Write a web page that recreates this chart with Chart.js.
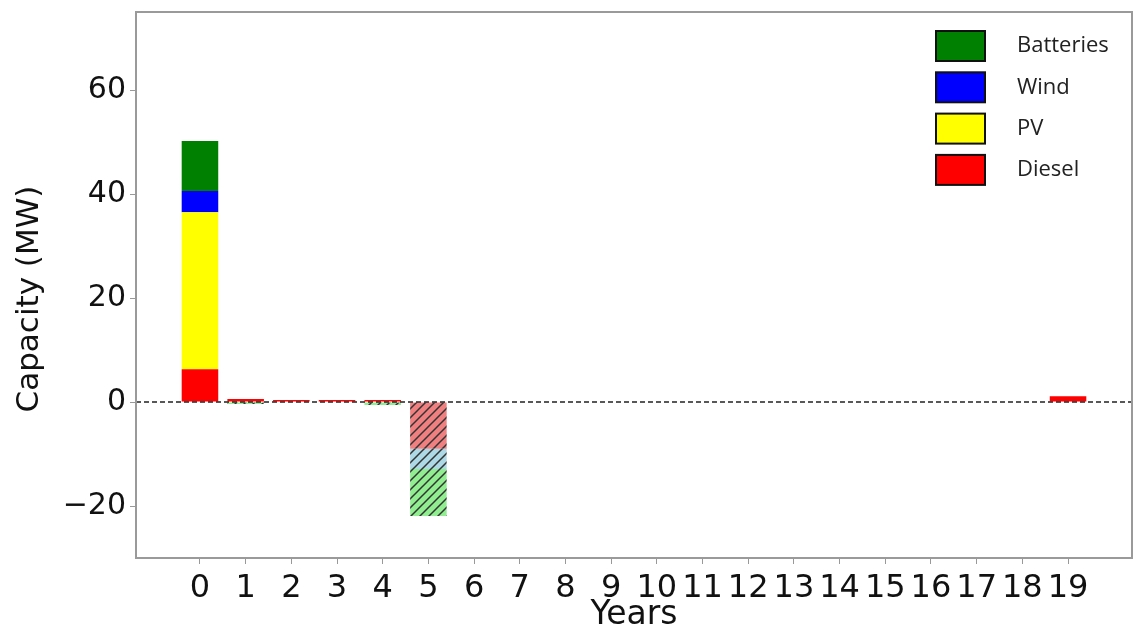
<!DOCTYPE html>
<html>
<head>
<meta charset="utf-8">
<script src="https://cdn.jsdelivr.net/npm/chart.js@4.4.0/dist/chart.umd.min.js"></script>
<style>
  html, body { margin: 0; padding: 0; background: #fff; }
</style>
</head>
<body>
<canvas id="capChart" width="1133" height="635"></canvas>
<script>
// years of the planning horizon
const years = [0, 1, 2, 3, 4, 5, 6, 7, 8, 9, 10, 11, 12, 13, 14, 15, 16, 17, 18, 19];
const yTicks = [-20, 0, 20, 40, 60];

// installed capacity per year (MW)
const diesel    = [6.3, 0.6, 0.4, 0.4, 0.4, 0, 0, 0, 0, 0, 0, 0, 0, 0, 0, 0, 0, 0, 0, 1.1];
const pv        = [30.2, 0, 0, 0, 0, 0, 0, 0, 0, 0, 0, 0, 0, 0, 0, 0, 0, 0, 0, 0];
const wind      = [4.1, 0, 0, 0, 0, 0, 0, 0, 0, 0, 0, 0, 0, 0, 0, 0, 0, 0, 0, 0];
const batteries = [9.6, 0, 0, 0, 0, 0, 0, 0, 0, 0, 0, 0, 0, 0, 0, 0, 0, 0, 0, 0];

// retired capacity per year (MW)
const dieselRetired    = [0, 0, 0, 0, 0, -9.0, 0, 0, 0, 0, 0, 0, 0, 0, 0, 0, 0, 0, 0, 0];
const windRetired      = [0, 0, 0, 0, 0, -3.9, 0, 0, 0, 0, 0, 0, 0, 0, 0, 0, 0, 0, 0, 0];
const batteriesRetired = [0, -0.4, 0, 0, -0.6, -9.0, 0, 0, 0, 0, 0, 0, 0, 0, 0, 0, 0, 0, 0, 0];

const toPoints = arr => years.map((x, i) => ({ x: x, y: arr[i] }));

// diagonal "///" fill for retired capacity
function hatch(bg) {
  const s = 9;
  const c = document.createElement('canvas');
  c.width = s; c.height = s;
  const g = c.getContext('2d');
  g.fillStyle = bg;
  g.fillRect(0, 0, s, s);
  g.strokeStyle = '#333';
  g.lineWidth = 1.5;
  g.beginPath();
  g.moveTo(0, s); g.lineTo(s, 0);
  g.moveTo(-s / 2, s / 2); g.lineTo(s / 2, -s / 2);
  g.moveTo(s / 2, s * 1.5); g.lineTo(s * 1.5, s / 2);
  g.stroke();
  return g.createPattern(c, 'repeat');
}

const noPad = s => { s.paddingTop = 0; s.paddingBottom = 0; s.paddingLeft = 0; s.paddingRight = 0; };

// frame round the plot + dashed zero line
const frame = {
  id: 'frame',
  afterDatasetsDraw(chart) {
    const { ctx, chartArea: a, scales: { y } } = chart;
    const y0 = y.getPixelForValue(0);
    ctx.save();
    ctx.strokeStyle = '#222';
    ctx.lineWidth = 1.5;
    ctx.setLineDash([5, 3]);
    ctx.beginPath();
    ctx.moveTo(a.left, y0);
    ctx.lineTo(a.right, y0);
    ctx.stroke();
    ctx.setLineDash([]);
    ctx.strokeStyle = '#9a9a9a';
    ctx.lineWidth = 2;
    ctx.strokeRect(a.left, a.top, a.right - a.left, a.bottom - a.top);
    ctx.restore();
  }
};

// y axis label, sitting a little below the middle of the plot
const yLabel = {
  id: 'yLabel',
  afterDraw(chart) {
    const { ctx, chartArea: a } = chart;
    ctx.save();
    ctx.translate(30, (a.top + a.bottom) / 2 + 14);
    ctx.rotate(-Math.PI / 2);
    ctx.font = '31px "DejaVu Sans"';
    ctx.fillStyle = '#111';
    ctx.textAlign = 'center';
    ctx.textBaseline = 'middle';
    ctx.fillText('Capacity (MW)', 0, 0);
    ctx.restore();
  }
};

// legend in the upper right corner, added capacity only
const cornerLegend = {
  id: 'cornerLegend',
  afterDraw(chart) {
    const { ctx, chartArea: a } = chart;
    const items = chart.data.datasets.filter(d => !d.retired).reverse();
    const x0 = a.right - 196;
    let y0 = a.top + 19;
    ctx.save();
    ctx.font = '22px "Open Sans"';
    ctx.textBaseline = 'middle';
    items.forEach(d => {
      ctx.fillStyle = d.backgroundColor;
      ctx.fillRect(x0, y0, 49, 30);
      ctx.strokeStyle = '#111';
      ctx.lineWidth = 2;
      ctx.strokeRect(x0, y0, 49, 30);
      ctx.fillStyle = '#222';
      ctx.fillText(d.label, x0 + 81, y0 + 15);
      y0 += 41.3;
    });
    ctx.restore();
  }
};

new Chart(document.getElementById('capChart'), {
  type: 'bar',
  data: {
    datasets: [
      { label: 'Diesel', data: toPoints(diesel), backgroundColor: '#ff0000' },
      { label: 'PV', data: toPoints(pv), backgroundColor: '#ffff00' },
      { label: 'Wind', data: toPoints(wind), backgroundColor: '#0000ff' },
      { label: 'Batteries', data: toPoints(batteries), backgroundColor: '#008000' },
      { label: 'Diesel retired', retired: true, data: toPoints(dieselRetired), backgroundColor: hatch('#f08080') },
      { label: 'Wind retired', retired: true, data: toPoints(windRetired), backgroundColor: hatch('#add8e6') },
      { label: 'Batteries retired', retired: true, data: toPoints(batteriesRetired), backgroundColor: hatch('#90ee90') }
    ]
  },
  options: {
    responsive: false,
    animation: false,
    devicePixelRatio: 1,
    barPercentage: 1,
    categoryPercentage: 0.8,
    layout: { padding: { top: 12, right: 1 } },
    plugins: { legend: { display: false }, tooltip: { enabled: false } },
    scales: {
      x: {
        type: 'linear',
        stacked: true,
        offset: false,
        min: -1.4,
        max: 20.4,
        afterBuildTicks: s => { s.ticks = years.map(v => ({ value: v })); },
        afterFit: s => { s.height = 77; noPad(s); },
        ticks: { font: { family: 'DejaVu Sans', size: 32 }, color: '#111', maxRotation: 0, autoSkip: false, padding: 5 },
        grid: { offset: false, drawOnChartArea: false, tickLength: 6, color: '#999' },
        border: { display: false },
        title: { display: true, text: 'Years', color: '#111', font: { family: 'DejaVu Sans', size: 33 }, padding: { top: 0, bottom: 0 } }
      },
      y: {
        stacked: true,
        min: -30,
        max: 75,
        afterBuildTicks: s => { s.ticks = yTicks.map(v => ({ value: v })); },
        afterFit: s => { s.width = 136; noPad(s); },
        ticks: {
          font: { family: 'DejaVu Sans', size: 30 },
          color: '#111',
          padding: 4,
          callback: v => String(v).replace('-', '\u2212')
        },
        grid: { drawOnChartArea: false, tickLength: 6, color: '#999' },
        border: { display: false }
      }
    }
  },
  plugins: [frame, yLabel, cornerLegend]
});
</script>
</body>
</html>
